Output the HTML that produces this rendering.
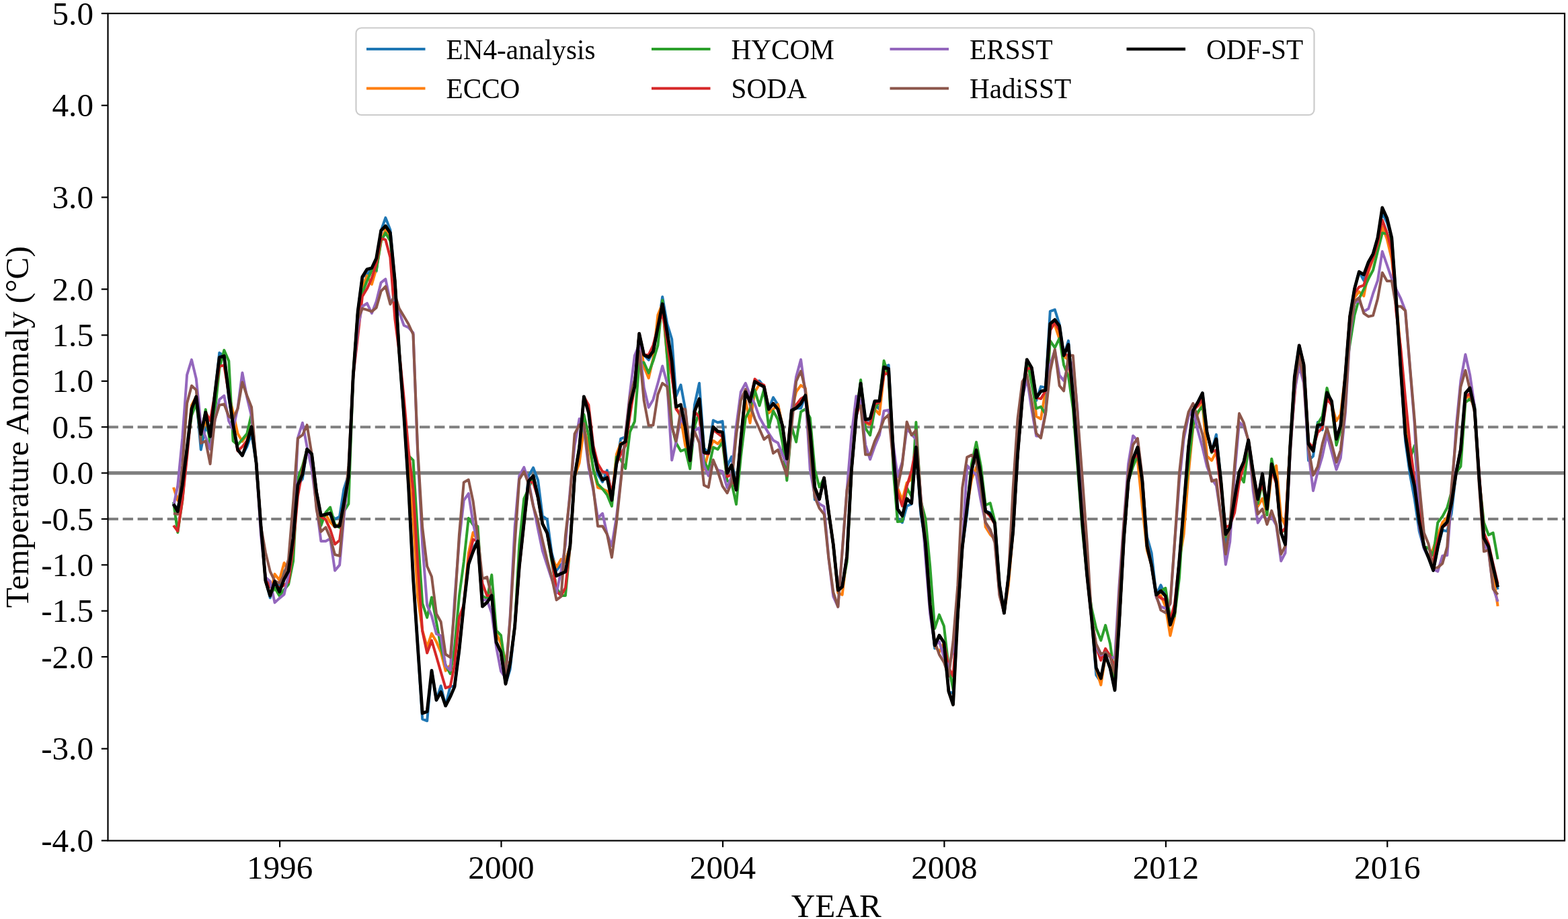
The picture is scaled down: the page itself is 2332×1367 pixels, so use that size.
<!DOCTYPE html>
<html lang="en"><head><meta charset="utf-8"><title>Temperature Anomaly</title>
<style>
html,body{margin:0;padding:0;background:#fff;}
body{width:2332px;height:1367px;overflow:hidden;}
svg{display:block;}
text{font-family:"Liberation Serif","Times New Roman",serif;fill:#000;}
.tk{font-size:49.2px;}
.lg{font-size:41.2px;}
.ax{font-size:49.2px;}
.ser{fill:none;stroke-width:4.0;stroke-linejoin:round;stroke-linecap:butt;}
</style></head>
<body>
<svg xmlns="http://www.w3.org/2000/svg" width="2332" height="1367" viewBox="0 0 2332 1367">
<rect x="0" y="0" width="2332" height="1367" fill="#fff"/>
<g stroke="#808080" stroke-width="5.2" fill="none">
<line x1="160.5" x2="2327.0" y1="703.6" y2="703.6"/>
<line x1="160.5" x2="2327.0" y1="635.2" y2="635.2" stroke-width="4.1" stroke-dasharray="15.4 6.67"/>
<line x1="160.5" x2="2327.0" y1="772.0" y2="772.0" stroke-width="4.1" stroke-dasharray="15.4 6.67"/>
</g>
<g class="ser">
<polyline stroke="#1f77b4" points="258.0,750.1 264.3,757.2 271.3,721.3 278.1,667.4 285.0,608.1 291.8,590.0 298.8,668.9 305.8,633.5 312.6,649.3 319.5,586.6 326.3,524.8 333.3,529.5 340.3,592.3 346.6,631.3 353.6,669.1 360.4,677.7 367.3,664.4 374.1,645.1 381.1,688.6 388.1,783.1 394.9,863.9 401.8,889.3 408.6,864.8 415.6,870.6 422.6,850.1 429.1,842.3 436.1,800.3 442.9,721.3 449.9,712.2 456.6,668.2 463.6,675.1 470.6,731.6 477.4,766.8 484.4,765.1 491.1,763.4 498.1,772.2 505.1,768.4 511.4,727.6 518.4,705.7 525.2,560.0 532.2,463.0 538.9,411.7 545.9,408.8 552.9,398.8 559.7,403.6 566.7,343.0 573.4,323.9 580.4,341.9 587.4,418.6 593.7,523.5 600.7,617.5 607.5,722.5 614.5,860.0 621.2,960.0 628.2,1069.7 635.2,1072.3 642.0,997.5 649.0,1041.4 655.7,1020.2 662.7,1049.9 669.7,1020.2 676.0,1021.6 683.0,966.6 689.8,899.5 696.8,839.4 703.6,815.2 710.5,805.0 717.5,902.1 724.3,896.1 731.3,885.8 738.1,955.4 745.0,970.0 752.0,1017.3 758.6,995.8 765.6,932.2 772.3,843.0 779.3,777.5 786.1,707.9 793.1,695.7 800.1,714.4 806.8,767.6 813.8,772.7 820.6,822.9 827.6,848.6 834.6,839.6 840.9,835.8 847.9,811.9 854.6,708.8 861.6,666.6 868.4,589.9 875.4,611.5 882.4,671.0 889.1,705.4 896.1,716.9 902.9,699.6 909.9,737.5 916.9,689.8 923.2,652.6 930.2,650.1 936.9,601.9 943.9,575.0 950.7,496.2 957.7,528.0 964.7,535.5 971.4,522.8 978.4,486.7 985.2,441.6 992.2,481.5 999.2,504.6 1005.5,589.3 1012.5,572.6 1019.2,608.6 1026.2,685.0 1033.0,602.2 1040.0,570.0 1047.0,666.5 1053.7,673.8 1060.7,625.3 1067.5,628.5 1074.5,626.6 1081.5,693.5 1088.0,679.3 1095.0,728.8 1101.8,654.0 1108.8,583.0 1115.5,597.6 1122.5,567.5 1129.5,566.4 1136.3,575.3 1143.3,608.8 1150.0,591.2 1157.0,602.2 1164.0,634.5 1170.3,682.4 1177.3,610.5 1184.1,607.0 1191.1,607.3 1197.8,588.1 1204.8,642.0 1211.8,743.2 1218.6,742.6 1225.6,710.8 1232.3,760.6 1239.3,810.0 1246.3,878.1 1252.6,872.9 1259.6,827.5 1266.4,698.8 1273.4,619.1 1280.1,570.1 1287.1,624.2 1294.1,625.4 1300.9,602.2 1307.9,608.6 1314.6,546.0 1321.6,543.0 1328.6,673.0 1334.9,770.8 1341.9,777.2 1348.7,752.8 1355.7,749.6 1362.4,665.2 1369.4,764.4 1376.4,808.0 1383.2,899.5 1390.2,964.6 1396.9,945.1 1403.9,955.8 1410.9,1028.5 1417.5,1031.5 1424.4,915.0 1431.2,814.0 1438.2,764.4 1445.0,700.0 1452.0,669.5 1458.9,707.4 1465.7,760.4 1472.7,762.4 1479.5,778.1 1486.5,870.0 1493.4,912.0 1499.8,858.0 1506.7,790.0 1513.5,676.0 1520.5,592.0 1527.3,544.3 1534.3,546.9 1541.2,595.8 1548.0,575.1 1555.0,576.4 1561.8,463.2 1568.8,460.6 1575.7,482.5 1582.1,528.8 1589.0,506.9 1595.8,588.0 1602.8,683.0 1609.6,775.0 1616.6,855.0 1623.5,920.0 1630.3,1004.1 1637.3,1014.4 1644.1,974.2 1651.1,994.0 1658.0,1026.7 1664.4,928.8 1671.4,802.0 1678.1,716.0 1685.1,682.5 1691.9,665.2 1698.9,716.0 1705.9,798.5 1712.6,822.5 1719.6,884.9 1726.4,870.3 1733.4,885.7 1740.4,929.5 1746.9,910.6 1753.9,834.0 1760.6,754.0 1767.6,664.5 1774.4,610.5 1781.4,598.5 1788.4,584.7 1795.1,643.0 1802.1,671.3 1808.9,646.4 1815.9,716.0 1822.9,810.5 1829.2,784.7 1836.2,741.7 1843.0,702.2 1849.9,686.7 1856.7,654.6 1863.7,702.2 1870.7,742.6 1877.5,704.8 1884.4,757.2 1891.2,690.2 1898.2,716.0 1905.2,792.5 1911.5,807.2 1918.5,668.0 1925.3,560.7 1932.2,513.8 1939.0,542.2 1946.0,685.0 1953.0,678.6 1959.8,627.9 1966.7,639.5 1973.5,583.9 1980.5,596.8 1987.5,653.2 1993.8,632.9 2000.8,558.0 2007.6,471.0 2014.5,429.6 2021.3,404.3 2028.3,417.2 2035.3,392.8 2042.1,377.7 2049.0,353.6 2055.8,316.9 2062.8,331.0 2069.8,353.6 2076.3,443.0 2083.3,550.5 2090.1,655.9 2097.1,706.4 2103.8,742.5 2110.8,790.1 2117.8,815.8 2124.6,829.5 2131.6,848.5 2138.3,814.0 2145.3,788.8 2152.3,790.1 2158.6,764.3 2165.6,703.0 2172.4,668.5 2179.4,584.9 2186.1,577.1 2193.1,608.9 2200.1,714.5 2206.9,800.3 2213.9,813.2 2220.6,843.0 2227.6,876.8"/>
<polyline stroke="#ff7f0e" points="258.0,725.0 264.3,744.3 271.3,721.3 278.1,667.4 285.0,602.6 291.8,590.0 298.8,645.9 305.8,625.8 312.6,649.3 319.5,586.6 326.3,531.6 333.3,529.5 340.3,586.6 346.6,612.9 353.6,645.1 360.4,656.7 367.3,646.4 374.1,634.7 381.1,688.6 388.1,783.1 394.9,864.8 401.8,886.3 408.6,853.9 415.6,862.9 422.6,837.2 429.1,849.3 436.1,800.3 442.9,721.3 449.9,705.8 456.6,668.2 463.6,675.1 470.6,731.6 477.4,766.8 484.4,765.1 491.1,776.7 498.1,783.8 505.1,779.3 511.4,748.8 518.4,709.2 525.2,560.0 532.2,463.0 538.9,426.8 545.9,410.1 552.9,422.9 559.7,399.8 566.7,358.6 573.4,341.2 580.4,350.9 587.4,418.6 593.7,523.5 600.7,603.8 607.5,694.9 614.5,771.5 621.2,887.2 628.2,937.9 635.2,962.3 642.0,942.4 649.0,954.6 655.7,970.1 662.7,997.7 669.7,989.3 676.0,970.1 683.0,966.6 689.8,899.5 696.8,822.9 703.6,792.0 710.5,805.0 717.5,902.1 724.3,896.1 731.3,885.8 738.1,941.7 745.0,957.2 752.0,982.9 758.6,987.2 765.6,932.2 772.3,843.0 779.3,777.5 786.1,715.6 793.1,707.9 800.1,739.7 806.8,779.2 813.8,793.0 820.6,829.1 827.6,843.5 834.6,831.9 840.9,835.8 847.9,811.9 854.6,708.8 861.6,688.6 868.4,637.2 875.4,662.9 882.4,696.4 889.1,725.3 896.1,727.2 902.9,730.5 909.9,742.7 916.9,675.8 923.2,659.1 930.2,662.9 936.9,601.9 943.9,575.0 950.7,496.2 957.7,545.8 964.7,562.5 971.4,532.9 978.4,468.6 985.2,452.0 992.2,530.3 999.2,558.6 1005.5,605.3 1012.5,621.5 1019.2,662.6 1026.2,683.2 1033.0,612.2 1040.0,593.3 1047.0,698.6 1053.7,672.9 1060.7,655.5 1067.5,660.1 1074.5,652.3 1081.5,703.9 1088.0,691.9 1095.0,728.8 1101.8,654.0 1108.8,595.7 1115.5,629.2 1122.5,582.9 1129.5,571.8 1136.3,575.3 1143.3,614.4 1150.0,608.6 1157.0,601.5 1164.0,634.3 1170.3,682.4 1177.3,610.5 1184.1,582.9 1191.1,573.2 1197.8,577.7 1204.8,642.0 1211.8,725.0 1218.6,742.6 1225.6,710.8 1232.3,760.6 1239.3,810.0 1246.3,882.1 1252.6,884.7 1259.6,827.5 1266.4,698.8 1273.4,619.1 1280.1,570.1 1287.1,629.2 1294.1,631.8 1300.9,608.6 1307.9,616.4 1314.6,557.2 1321.6,548.6 1328.6,673.0 1334.9,725.8 1341.9,743.8 1348.7,718.1 1355.7,712.9 1362.4,665.2 1369.4,755.0 1376.4,808.0 1383.2,899.5 1390.2,960.2 1396.9,969.8 1403.9,955.8 1410.9,1028.5 1417.5,1048.2 1424.4,915.0 1431.2,814.0 1438.2,755.0 1445.0,712.9 1452.0,694.9 1458.9,707.4 1465.7,783.7 1472.7,795.0 1479.5,801.9 1486.5,870.0 1493.4,912.0 1499.8,870.3 1506.7,790.0 1513.5,676.0 1520.5,592.0 1527.3,534.9 1534.3,546.9 1541.2,619.3 1548.0,623.2 1555.0,580.4 1561.8,481.6 1568.8,483.7 1575.7,504.3 1582.1,530.1 1589.0,535.2 1595.8,588.0 1602.8,683.0 1609.6,775.0 1616.6,855.0 1623.5,920.0 1630.3,995.1 1637.3,1018.9 1644.1,975.8 1651.1,973.2 1658.0,1007.9 1664.4,928.8 1671.4,802.0 1678.1,716.0 1685.1,682.5 1691.9,684.9 1698.9,754.4 1705.9,818.7 1712.6,840.8 1719.6,884.9 1726.4,885.7 1733.4,902.5 1740.4,945.5 1746.9,917.9 1753.9,834.0 1760.6,794.4 1767.6,704.3 1774.4,634.7 1781.4,615.4 1788.4,600.0 1795.1,678.6 1802.1,685.0 1808.9,672.2 1815.9,716.0 1822.9,794.8 1829.2,784.7 1836.2,741.7 1843.0,702.2 1849.9,686.7 1856.7,654.6 1863.7,702.2 1870.7,753.2 1877.5,741.6 1884.4,764.8 1891.2,704.3 1898.2,692.7 1905.2,768.6 1911.5,781.5 1918.5,668.0 1925.3,560.7 1932.2,525.0 1939.0,542.2 1946.0,660.4 1953.0,671.0 1959.8,632.5 1966.7,631.3 1973.5,583.9 1980.5,602.2 1987.5,626.0 1993.8,616.4 2000.8,557.2 2007.6,471.0 2014.5,442.9 2021.3,433.9 2028.3,440.4 2035.3,404.3 2042.1,385.1 2049.0,364.5 2055.8,337.5 2062.8,355.5 2069.8,385.1 2076.3,443.0 2083.3,525.0 2090.1,605.0 2097.1,675.8 2103.8,723.5 2110.8,776.0 2117.8,812.4 2124.6,829.5 2131.6,815.8 2138.3,796.5 2145.3,777.2 2152.3,769.5 2158.6,751.5 2165.6,703.0 2172.4,668.5 2179.4,592.2 2186.1,589.6 2193.1,608.9 2200.1,714.5 2206.9,800.3 2213.9,818.4 2220.6,854.4 2227.6,901.7"/>
<polyline stroke="#2ca02c" points="258.0,746.9 264.3,791.9 271.3,744.3 278.1,667.4 285.0,618.1 291.8,600.1 298.8,651.5 305.8,609.1 312.6,661.8 319.5,612.9 326.3,548.6 333.3,520.9 340.3,537.0 346.6,656.0 353.6,661.8 360.4,653.4 367.3,645.1 374.1,615.5 381.1,688.6 388.1,783.1 394.9,863.9 401.8,886.3 408.6,874.5 415.6,886.1 422.6,877.1 429.1,869.3 436.1,834.6 442.9,712.2 449.9,692.9 456.6,668.2 463.6,675.1 470.6,731.6 477.4,781.9 484.4,762.3 491.1,754.6 498.1,780.3 505.1,784.8 511.4,761.0 518.4,749.5 525.2,560.0 532.2,463.0 538.9,435.8 545.9,417.8 552.9,402.3 559.7,402.3 566.7,358.6 573.4,346.4 580.4,358.6 587.4,418.6 593.7,523.5 600.7,617.5 607.5,677.7 614.5,684.6 621.2,793.3 628.2,897.5 635.2,918.6 642.0,888.5 649.0,925.0 655.7,962.3 662.7,989.3 669.7,1002.2 676.0,963.6 683.0,886.4 689.8,835.8 696.8,770.8 703.6,780.5 710.5,783.0 717.5,886.0 724.3,891.1 731.3,855.1 738.1,937.9 745.0,945.0 752.0,995.8 758.6,987.2 765.6,932.2 772.3,810.1 779.3,741.9 786.1,727.2 793.1,707.9 800.1,739.7 806.8,779.2 813.8,793.0 820.6,835.8 827.6,874.4 834.6,886.0 840.9,886.0 847.9,811.9 854.6,708.8 861.6,662.9 868.4,616.6 875.4,647.5 882.4,698.9 889.1,720.2 896.1,727.2 902.9,735.9 909.9,753.0 916.9,679.6 923.2,683.5 930.2,697.0 936.9,642.3 943.9,626.9 950.7,539.3 957.7,539.3 964.7,554.8 971.4,536.8 978.4,513.6 985.2,446.7 992.2,530.3 999.2,634.3 1005.5,658.8 1012.5,671.0 1019.2,668.4 1026.2,697.4 1033.0,634.3 1040.0,612.5 1047.0,685.8 1053.7,698.6 1060.7,665.2 1067.5,668.4 1074.5,657.5 1081.5,715.4 1088.0,717.9 1095.0,750.1 1101.8,679.3 1108.8,621.5 1115.5,608.6 1122.5,580.3 1129.5,603.4 1136.3,579.0 1143.3,635.6 1150.0,611.2 1157.0,624.0 1164.0,660.1 1170.3,714.7 1177.3,634.3 1184.1,657.5 1191.1,612.5 1197.8,608.6 1204.8,621.5 1211.8,698.6 1218.6,724.4 1225.6,710.8 1232.3,760.6 1239.3,810.0 1246.3,878.1 1252.6,872.9 1259.6,835.8 1266.4,698.8 1273.4,619.1 1280.1,564.9 1287.1,637.0 1294.1,647.3 1300.9,608.6 1307.9,596.4 1314.6,536.6 1321.6,559.8 1328.6,700.1 1334.9,776.0 1341.9,775.3 1348.7,725.8 1355.7,738.6 1362.4,628.0 1369.4,745.1 1376.4,771.5 1383.2,842.2 1390.2,935.0 1396.9,914.4 1403.9,931.2 1410.9,992.9 1417.5,1025.1 1424.4,915.0 1431.2,814.0 1438.2,755.0 1445.0,689.8 1452.0,657.6 1458.9,693.6 1465.7,751.5 1472.7,748.3 1479.5,774.7 1486.5,870.0 1493.4,912.0 1499.8,858.0 1506.7,790.0 1513.5,676.0 1520.5,592.0 1527.3,534.9 1534.3,570.1 1541.2,607.7 1548.0,605.1 1555.0,615.9 1561.8,506.9 1568.8,517.2 1575.7,503.0 1582.1,542.9 1589.0,559.6 1595.8,607.2 1602.8,696.5 1609.6,786.5 1616.6,855.0 1623.5,905.0 1630.3,934.6 1637.3,952.6 1644.1,930.1 1651.1,957.8 1658.0,1007.9 1664.4,928.8 1671.4,802.0 1678.1,716.0 1685.1,693.9 1691.9,677.2 1698.9,716.0 1705.9,812.3 1712.6,840.8 1719.6,884.9 1726.4,879.3 1733.4,874.8 1740.4,917.9 1746.9,916.6 1753.9,860.0 1760.6,754.0 1767.6,690.1 1774.4,632.2 1781.4,612.9 1788.4,604.7 1795.1,643.0 1802.1,673.4 1808.9,652.9 1815.9,716.0 1822.9,798.5 1829.2,784.7 1836.2,741.7 1843.0,704.3 1849.9,717.2 1856.7,665.7 1863.7,702.2 1870.7,749.3 1877.5,717.2 1884.4,766.1 1891.2,682.5 1898.2,716.0 1905.2,792.5 1911.5,787.9 1918.5,668.0 1925.3,560.7 1932.2,552.0 1939.0,542.2 1946.0,660.4 1953.0,665.7 1959.8,630.5 1966.7,618.9 1973.5,577.1 1980.5,602.2 1987.5,662.2 1993.8,640.8 2000.8,558.0 2007.6,512.2 2014.5,468.7 2021.3,444.2 2028.3,430.1 2035.3,414.6 2042.1,401.8 2049.0,373.5 2055.8,346.5 2062.8,347.7 2069.8,359.3 2076.3,443.0 2083.3,550.5 2090.1,646.0 2097.1,682.2 2103.8,662.9 2110.8,740.1 2117.8,812.4 2124.6,815.8 2131.6,826.1 2138.3,777.2 2145.3,768.2 2152.3,755.3 2158.6,732.2 2165.6,703.0 2172.4,693.8 2179.4,598.6 2186.1,593.4 2193.1,602.5 2200.1,714.5 2206.9,777.2 2213.9,795.8 2220.6,792.6 2227.6,831.9"/>
<polyline stroke="#d62728" points="258.0,781.6 264.3,790.0 271.3,744.3 278.1,680.0 285.0,608.1 291.8,590.0 298.8,645.9 305.8,613.2 312.6,625.8 319.5,586.6 326.3,544.7 333.3,543.4 340.3,586.6 346.6,631.3 353.6,670.8 360.4,664.4 367.3,655.4 374.1,634.7 381.1,688.6 388.1,783.1 394.9,860.3 401.8,873.2 408.6,868.1 415.6,874.5 422.6,870.6 429.1,865.5 436.1,811.5 442.9,737.9 449.9,699.3 456.6,668.2 463.6,675.1 470.6,731.6 477.4,768.8 484.4,772.9 491.1,787.7 498.1,809.5 505.1,803.7 511.4,757.2 518.4,709.2 525.2,560.0 532.2,500.1 538.9,440.9 545.9,429.3 552.9,413.9 559.7,392.0 566.7,354.7 573.4,356.7 580.4,383.0 587.4,474.4 593.7,523.5 600.7,591.7 607.5,669.1 614.5,729.0 621.2,838.4 628.2,938.7 635.2,971.3 642.0,952.7 649.0,976.5 655.7,999.6 662.7,1023.4 669.7,1020.9 676.0,989.3 683.0,918.6 689.8,899.5 696.8,833.2 703.6,802.3 710.5,805.0 717.5,867.9 724.3,886.0 731.3,885.8 738.1,955.4 745.0,970.0 752.0,1017.3 758.6,987.2 765.6,932.2 772.3,843.0 779.3,777.5 786.1,715.6 793.1,718.2 800.1,740.1 806.8,779.2 813.8,793.0 820.6,829.1 827.6,879.5 834.6,886.0 840.9,874.4 847.9,811.9 854.6,708.8 861.6,666.6 868.4,589.9 875.4,602.5 882.4,662.9 889.1,689.9 896.1,701.5 902.9,703.4 909.9,733.7 916.9,689.8 923.2,675.8 930.2,662.9 936.9,617.9 943.9,575.0 950.7,496.2 957.7,528.0 964.7,527.8 971.4,513.6 978.4,486.7 985.2,464.7 992.2,507.2 999.2,558.6 1005.5,608.6 1012.5,617.6 1019.2,634.3 1026.2,685.0 1033.0,612.2 1040.0,620.2 1047.0,674.2 1053.7,675.5 1060.7,639.5 1067.5,644.6 1074.5,649.8 1081.5,708.9 1088.0,706.4 1095.0,728.8 1101.8,654.0 1108.8,583.0 1115.5,597.6 1122.5,563.8 1129.5,570.2 1136.3,572.8 1143.3,608.8 1150.0,600.2 1157.0,608.8 1164.0,634.5 1170.3,682.4 1177.3,610.5 1184.1,602.2 1191.1,593.2 1197.8,589.3 1204.8,642.0 1211.8,725.0 1218.6,742.6 1225.6,710.8 1232.3,760.6 1239.3,810.0 1246.3,878.1 1252.6,872.9 1259.6,827.5 1266.4,698.8 1273.4,619.1 1280.1,595.8 1287.1,627.9 1294.1,630.5 1300.9,600.9 1307.9,598.4 1314.6,557.2 1321.6,554.6 1328.6,673.0 1334.9,732.2 1341.9,752.8 1348.7,723.2 1355.7,700.1 1362.4,665.2 1369.4,755.0 1376.4,808.0 1383.2,899.5 1390.2,960.2 1396.9,945.1 1403.9,955.8 1410.9,992.9 1417.5,1005.8 1424.4,915.0 1431.2,814.0 1438.2,755.0 1445.0,700.0 1452.0,669.5 1458.9,707.4 1465.7,760.4 1472.7,768.2 1479.5,779.8 1486.5,877.2 1493.4,912.0 1499.8,858.0 1506.7,790.0 1513.5,676.0 1520.5,592.0 1527.3,548.2 1534.3,546.9 1541.2,591.6 1548.0,593.1 1555.0,581.5 1561.8,491.5 1568.8,479.9 1575.7,491.5 1582.1,524.9 1589.0,530.1 1595.8,588.0 1602.8,670.8 1609.6,760.8 1616.6,855.0 1623.5,920.0 1630.3,962.9 1637.3,982.2 1644.1,964.8 1651.1,975.8 1658.0,992.5 1664.4,928.8 1671.4,802.0 1678.1,716.0 1685.1,682.5 1691.9,675.9 1698.9,716.0 1705.9,812.3 1712.6,840.8 1719.6,884.9 1726.4,889.6 1733.4,892.8 1740.4,921.7 1746.9,898.6 1753.9,834.0 1760.6,754.0 1767.6,664.5 1774.4,610.5 1781.4,603.9 1788.4,593.6 1795.1,643.0 1802.1,672.2 1808.9,669.6 1815.9,728.6 1822.9,784.1 1829.2,781.5 1836.2,762.2 1843.0,717.2 1849.9,691.5 1856.7,654.6 1863.7,702.2 1870.7,739.1 1877.5,719.8 1884.4,749.3 1891.2,697.9 1898.2,719.8 1905.2,792.5 1911.5,785.4 1918.5,668.0 1925.3,589.3 1932.2,513.8 1939.0,542.2 1946.0,658.0 1953.0,665.7 1959.8,643.4 1966.7,636.9 1973.5,593.2 1980.5,602.2 1987.5,653.2 1993.8,632.9 2000.8,558.0 2007.6,471.0 2014.5,436.5 2021.3,426.9 2028.3,424.3 2035.3,400.5 2042.1,383.8 2049.0,361.9 2055.8,327.2 2062.8,346.5 2069.8,372.2 2076.3,462.2 2083.3,518.6 2090.1,592.2 2097.1,662.9 2103.8,714.4 2110.8,753.0 2117.8,812.4 2124.6,829.5 2131.6,835.1 2138.3,802.9 2145.3,783.6 2152.3,779.8 2158.6,748.8 2165.6,703.0 2172.4,668.5 2179.4,589.6 2186.1,585.7 2193.1,608.9 2200.1,707.9 2206.9,792.6 2213.9,809.3 2220.6,838.9 2227.6,868.5"/>
<polyline stroke="#9467bd" points="258.0,753.3 264.3,722.5 271.3,651.5 278.1,557.6 285.0,535.1 291.8,563.4 298.8,632.2 305.8,650.2 312.6,668.2 319.5,625.8 326.3,594.3 333.3,588.5 340.3,626.4 346.6,638.6 353.6,606.5 360.4,554.4 367.3,591.0 374.1,619.3 381.1,688.6 388.1,796.9 394.9,858.8 401.8,864.8 408.6,896.4 415.6,889.9 422.6,884.1 429.1,854.6 436.1,798.6 442.9,651.5 449.9,629.0 456.6,664.4 463.6,697.2 470.6,752.2 477.4,805.0 484.4,805.0 491.1,801.2 498.1,848.8 505.1,840.4 511.4,770.3 518.4,705.7 525.2,560.0 532.2,487.2 538.9,455.7 545.9,451.2 552.9,466.0 559.7,448.6 566.7,420.3 573.4,415.2 580.4,448.6 587.4,444.8 593.7,464.1 600.7,484.0 607.5,487.2 614.5,495.0 621.2,675.0 628.2,810.1 635.2,900.1 642.0,916.0 649.0,943.0 655.7,945.6 662.7,990.6 669.7,997.1 676.0,892.9 683.0,803.6 689.8,744.4 696.8,734.2 703.6,777.9 710.5,810.1 717.5,892.4 724.3,892.4 731.3,912.2 738.1,962.3 745.0,998.4 752.0,1008.6 758.6,918.6 765.6,784.3 772.3,707.9 779.3,695.1 786.1,715.7 793.1,752.2 800.1,786.9 806.8,819.1 813.8,840.9 820.6,861.5 827.6,882.1 834.6,848.6 840.9,810.2 847.9,729.4 854.6,662.9 861.6,623.0 868.4,637.2 875.4,695.1 882.4,729.4 889.1,770.6 896.1,763.8 902.9,794.7 909.9,811.9 916.9,768.9 923.2,713.9 930.2,645.2 936.9,584.4 943.9,529.1 950.7,512.3 957.7,576.4 964.7,606.0 971.4,594.4 978.4,570.0 985.2,544.5 992.2,570.0 999.2,684.5 1005.5,657.5 1012.5,621.5 1019.2,634.3 1026.2,679.3 1033.0,640.8 1040.0,636.3 1047.0,692.2 1053.7,707.7 1060.7,685.8 1067.5,699.3 1074.5,701.2 1081.5,725.7 1088.0,708.9 1095.0,634.3 1101.8,582.9 1108.8,570.0 1115.5,588.0 1122.5,600.9 1129.5,620.8 1136.3,633.0 1143.3,644.6 1150.0,654.9 1157.0,658.8 1164.0,676.8 1170.3,690.9 1177.3,608.6 1184.1,560.6 1191.1,534.9 1197.8,584.7 1204.8,698.6 1211.8,737.2 1218.6,749.6 1225.6,753.4 1232.3,829.3 1239.3,887.2 1246.3,902.7 1252.6,820.3 1259.6,729.0 1266.4,647.2 1273.4,589.3 1280.1,595.8 1287.1,661.5 1294.1,683.3 1300.9,664.0 1307.9,647.3 1314.6,611.2 1321.6,610.0 1328.6,661.5 1334.9,709.1 1341.9,687.2 1348.7,637.7 1355.7,646.0 1362.4,653.7 1369.4,738.6 1376.4,829.3 1383.2,913.0 1390.2,960.2 1396.9,954.3 1403.9,977.5 1410.9,992.9 1417.5,967.2 1424.4,877.1 1431.2,814.0 1438.2,692.3 1445.0,700.1 1452.0,706.5 1458.9,745.1 1465.7,777.2 1472.7,790.1 1479.5,803.6 1486.5,884.1 1493.4,912.0 1499.8,858.0 1506.7,790.0 1513.5,676.0 1520.5,592.0 1527.3,562.3 1534.3,608.6 1541.2,648.5 1548.0,648.9 1555.0,612.9 1561.8,542.9 1568.8,521.0 1575.7,558.4 1582.1,566.1 1589.0,542.9 1595.8,539.1 1602.8,613.7 1609.6,775.0 1616.6,855.0 1623.5,920.0 1630.3,962.9 1637.3,974.5 1644.1,970.6 1651.1,977.7 1658.0,978.4 1664.4,872.9 1671.4,775.9 1678.1,690.1 1685.1,648.2 1691.9,655.3 1698.9,715.8 1705.9,812.3 1712.6,840.8 1719.6,888.3 1726.4,902.5 1733.4,905.0 1740.4,898.6 1746.9,808.5 1753.9,717.2 1760.6,652.9 1767.6,619.3 1774.4,609.0 1781.4,640.0 1788.4,665.7 1795.1,694.0 1802.1,712.0 1808.9,722.3 1815.9,768.6 1822.9,839.7 1829.2,806.0 1836.2,704.3 1843.0,627.9 1849.9,634.4 1856.7,654.6 1863.7,730.1 1870.7,777.7 1877.5,767.4 1884.4,772.5 1891.2,768.6 1898.2,781.5 1905.2,834.6 1911.5,822.5 1918.5,678.6 1925.3,582.9 1932.2,544.3 1939.0,570.1 1946.0,672.2 1953.0,730.1 1959.8,701.7 1966.7,678.6 1973.5,646.0 1980.5,672.2 1987.5,698.5 1993.8,681.2 2000.8,615.1 2007.6,499.3 2014.5,450.7 2021.3,446.8 2028.3,463.5 2035.3,459.0 2042.1,436.5 2049.0,417.2 2055.8,374.1 2062.8,394.1 2069.8,414.6 2076.3,430.1 2083.3,444.2 2090.1,462.2 2097.1,549.7 2103.8,630.8 2110.8,783.6 2117.8,815.8 2124.6,828.6 2131.6,846.7 2138.3,849.9 2145.3,826.7 2152.3,826.1 2158.6,742.5 2165.6,635.7 2172.4,566.4 2179.4,527.3 2186.1,557.4 2193.1,605.0 2200.1,714.5 2206.9,809.3 2213.9,820.9 2220.6,873.7 2227.6,894.9"/>
<polyline stroke="#8c564b" points="258.0,763.6 264.3,764.9 271.3,692.9 278.1,600.1 285.0,573.7 291.8,580.1 298.8,659.2 305.8,656.0 312.6,690.1 319.5,624.5 326.3,602.6 333.3,601.3 340.3,619.3 346.6,623.2 353.6,607.8 360.4,568.5 367.3,588.5 374.1,605.8 381.1,688.6 388.1,783.1 394.9,821.7 401.8,850.1 408.6,864.2 415.6,867.4 422.6,855.2 429.1,832.0 436.1,747.1 442.9,652.2 449.9,647.0 456.6,632.2 463.6,675.1 470.6,757.2 477.4,790.9 484.4,784.4 491.1,799.9 498.1,825.0 505.1,826.9 511.4,760.0 518.4,692.9 525.2,560.0 532.2,474.4 538.9,458.9 545.9,460.9 552.9,463.4 559.7,457.7 566.7,433.2 573.4,426.1 580.4,452.5 587.4,438.4 593.7,458.9 600.7,470.5 607.5,482.1 614.5,497.5 621.2,668.5 628.2,784.3 635.2,842.2 642.0,857.7 649.0,913.0 655.7,925.0 662.7,973.3 669.7,977.8 676.0,905.7 683.0,794.6 689.8,717.4 696.8,713.6 703.6,745.7 710.5,797.2 717.5,860.9 724.3,858.3 731.3,887.2 738.1,955.4 745.0,970.0 752.0,1000.9 758.6,922.5 765.6,810.1 772.3,713.1 779.3,701.5 786.1,719.5 793.1,753.0 800.1,775.3 806.8,803.6 813.8,833.2 820.6,858.9 827.6,892.4 834.6,887.2 840.9,797.2 847.9,735.9 854.6,645.5 861.6,632.0 868.4,630.1 875.4,688.6 882.4,725.9 889.1,782.7 896.1,782.7 902.9,794.7 909.9,829.1 916.9,777.5 923.2,717.4 930.2,648.6 936.9,590.8 943.9,565.1 950.7,522.6 957.7,595.7 964.7,633.0 971.4,632.4 978.4,586.7 985.2,570.0 992.2,575.1 999.2,634.3 1005.5,656.2 1012.5,608.6 1019.2,608.6 1026.2,670.3 1033.0,642.0 1040.0,658.8 1047.0,721.8 1053.7,725.0 1060.7,683.9 1067.5,701.2 1074.5,723.1 1081.5,733.4 1088.0,717.9 1095.0,647.2 1101.8,595.7 1108.8,579.0 1115.5,602.2 1122.5,622.7 1129.5,638.2 1136.3,653.6 1143.3,647.8 1150.0,674.2 1157.0,669.1 1164.0,689.6 1170.3,707.7 1177.3,634.3 1184.1,567.5 1191.1,552.0 1197.8,579.5 1204.8,672.9 1211.8,739.3 1218.6,756.0 1225.6,765.0 1232.3,829.3 1239.3,880.8 1246.3,902.7 1252.6,820.3 1259.6,729.0 1266.4,698.8 1273.4,608.6 1280.1,603.5 1287.1,676.3 1294.1,676.3 1300.9,656.3 1307.9,642.2 1314.6,623.5 1321.6,617.1 1328.6,687.2 1334.9,725.8 1341.9,691.0 1348.7,627.4 1355.7,647.3 1362.4,640.2 1369.4,738.6 1376.4,803.0 1383.2,899.5 1390.2,954.3 1396.9,973.6 1403.9,985.2 1410.9,1005.8 1417.5,954.3 1424.4,870.7 1431.2,725.8 1438.2,680.1 1445.0,676.9 1452.0,687.2 1458.9,725.8 1465.7,777.2 1472.7,787.5 1479.5,807.1 1486.5,885.8 1493.4,912.0 1499.8,858.0 1506.7,725.8 1513.5,622.9 1520.5,567.5 1527.3,557.2 1534.3,595.8 1541.2,644.7 1548.0,651.5 1555.0,615.9 1561.8,553.2 1568.8,519.8 1575.7,573.8 1582.1,581.5 1589.0,528.8 1595.8,528.8 1602.8,619.3 1609.6,709.3 1616.6,805.8 1623.5,920.0 1630.3,957.8 1637.3,972.6 1644.1,970.6 1651.1,977.1 1658.0,1001.5 1664.4,885.7 1671.4,780.1 1678.1,702.9 1685.1,661.7 1691.9,652.1 1698.9,709.3 1705.9,805.8 1712.6,840.8 1719.6,885.7 1726.4,907.6 1733.4,911.5 1740.4,897.3 1746.9,808.5 1753.9,704.3 1760.6,643.9 1767.6,612.9 1774.4,600.0 1781.4,621.9 1788.4,646.4 1795.1,685.0 1802.1,715.9 1808.9,713.3 1815.9,768.6 1822.9,824.2 1829.2,781.5 1836.2,691.5 1843.0,615.1 1849.9,629.2 1856.7,655.9 1863.7,717.2 1870.7,764.8 1877.5,757.1 1884.4,780.2 1891.2,759.6 1898.2,780.2 1905.2,824.2 1911.5,812.2 1918.5,678.6 1925.3,576.5 1932.2,531.5 1939.0,563.6 1946.0,665.7 1953.0,706.9 1959.8,694.0 1966.7,660.1 1973.5,636.3 1980.5,660.1 1987.5,687.6 1993.8,669.6 2000.8,608.6 2007.6,492.9 2014.5,448.1 2021.3,442.9 2028.3,466.1 2035.3,470.9 2042.1,469.3 2049.0,444.2 2055.8,405.6 2062.8,417.9 2069.8,417.9 2076.3,455.8 2083.3,455.8 2090.1,462.2 2097.1,547.1 2103.8,624.3 2110.8,720.6 2117.8,792.6 2124.6,809.3 2131.6,845.4 2138.3,844.1 2145.3,838.3 2152.3,813.2 2158.6,725.7 2165.6,648.5 2172.4,575.4 2179.4,551.0 2186.1,579.3 2193.1,614.0 2200.1,725.7 2206.9,820.3 2213.9,818.4 2220.6,875.9 2227.6,884.6"/>
<polyline stroke="#000000" stroke-width="4.8" points="258.0,749.6 264.3,760.8 271.3,721.3 278.1,667.4 285.0,608.1 291.8,590.0 298.8,645.9 305.8,613.2 312.6,649.3 319.5,586.6 326.3,531.6 333.3,529.5 340.3,586.6 346.6,631.3 353.6,669.1 360.4,677.7 367.3,658.8 374.1,634.7 381.1,688.6 388.1,783.1 394.9,863.9 401.8,886.3 408.6,864.8 415.6,880.3 422.6,861.3 429.1,849.3 436.1,800.3 442.9,721.3 449.9,705.8 456.6,668.2 463.6,675.1 470.6,731.6 477.4,766.8 484.4,765.1 491.1,763.4 498.1,783.1 505.1,782.3 511.4,748.8 518.4,709.2 525.2,560.0 532.2,463.0 538.9,411.7 545.9,400.6 552.9,398.8 559.7,384.2 566.7,343.0 573.4,336.1 580.4,346.4 587.4,418.6 593.7,523.5 600.7,617.5 607.5,722.5 614.5,860.0 621.2,960.0 628.2,1061.1 635.2,1058.5 642.0,997.5 649.0,1041.4 655.7,1029.3 662.7,1049.9 669.7,1036.2 676.0,1021.6 683.0,966.6 689.8,899.5 696.8,839.4 703.6,820.5 710.5,805.0 717.5,902.1 724.3,896.1 731.3,885.8 738.1,955.4 745.0,970.0 752.0,1017.3 758.6,987.2 765.6,932.2 772.3,843.0 779.3,777.5 786.1,715.6 793.1,707.9 800.1,739.7 806.8,779.2 813.8,793.0 820.6,829.1 827.6,856.6 834.6,853.2 840.9,850.6 847.9,811.9 854.6,708.8 861.6,666.6 868.4,589.9 875.4,613.9 882.4,671.0 889.1,699.3 896.1,713.9 902.9,710.5 909.9,744.0 916.9,689.8 923.2,661.0 930.2,657.0 936.9,601.9 943.9,575.0 950.7,496.2 957.7,528.0 964.7,531.4 971.4,522.8 978.4,486.7 985.2,452.0 992.2,494.5 999.2,537.0 1005.5,605.3 1012.5,601.9 1019.2,636.3 1026.2,685.0 1033.0,612.2 1040.0,593.3 1047.0,673.0 1053.7,673.8 1060.7,635.0 1067.5,641.7 1074.5,642.9 1081.5,703.9 1088.0,691.9 1095.0,728.8 1101.8,654.0 1108.8,583.0 1115.5,597.6 1122.5,567.5 1129.5,571.8 1136.3,575.3 1143.3,608.8 1150.0,600.2 1157.0,608.8 1164.0,634.5 1170.3,682.4 1177.3,610.5 1184.1,607.0 1191.1,600.2 1197.8,588.1 1204.8,642.0 1211.8,725.0 1218.6,742.6 1225.6,710.8 1232.3,760.6 1239.3,810.0 1246.3,878.1 1252.6,872.9 1259.6,827.5 1266.4,698.8 1273.4,619.1 1280.1,570.1 1287.1,624.2 1294.1,622.5 1300.9,596.7 1307.9,596.4 1314.6,546.0 1321.6,548.6 1328.6,673.0 1334.9,757.2 1341.9,767.5 1348.7,741.7 1355.7,748.6 1362.4,665.2 1369.4,755.0 1376.4,808.0 1383.2,899.5 1390.2,960.2 1396.9,945.1 1403.9,955.8 1410.9,1028.5 1417.5,1048.2 1424.4,915.0 1431.2,814.0 1438.2,755.0 1445.0,700.0 1452.0,669.5 1458.9,707.4 1465.7,760.4 1472.7,764.8 1479.5,778.1 1486.5,870.0 1493.4,912.0 1499.8,858.0 1506.7,790.0 1513.5,676.0 1520.5,592.0 1527.3,534.9 1534.3,546.9 1541.2,591.6 1548.0,582.1 1555.0,580.4 1561.8,481.6 1568.8,475.6 1575.7,485.0 1582.1,528.8 1589.0,512.5 1595.8,588.0 1602.8,683.0 1609.6,775.0 1616.6,855.0 1623.5,920.0 1630.3,993.6 1637.3,1009.0 1644.1,974.2 1651.1,994.0 1658.0,1026.7 1664.4,928.8 1671.4,802.0 1678.1,716.0 1685.1,682.5 1691.9,665.2 1698.9,716.0 1705.9,812.3 1712.6,840.8 1719.6,884.9 1726.4,878.8 1733.4,886.6 1740.4,929.5 1746.9,910.6 1753.9,834.0 1760.6,754.0 1767.6,664.5 1774.4,610.5 1781.4,598.5 1788.4,584.7 1795.1,643.0 1802.1,671.3 1808.9,652.9 1815.9,716.0 1822.9,794.8 1829.2,784.7 1836.2,741.7 1843.0,702.2 1849.9,686.7 1856.7,654.6 1863.7,702.2 1870.7,742.6 1877.5,704.8 1884.4,757.2 1891.2,690.2 1898.2,716.0 1905.2,792.5 1911.5,810.0 1918.5,668.0 1925.3,560.7 1932.2,513.8 1939.0,542.2 1946.0,660.4 1953.0,671.0 1959.8,632.5 1966.7,631.3 1973.5,583.9 1980.5,596.8 1987.5,653.2 1993.8,632.9 2000.8,558.0 2007.6,471.0 2014.5,429.6 2021.3,404.3 2028.3,408.6 2035.3,389.7 2042.1,377.7 2049.0,353.6 2055.8,308.9 2062.8,324.4 2069.8,353.6 2076.3,443.0 2083.3,550.5 2090.1,646.0 2097.1,694.3 2103.8,723.5 2110.8,776.0 2117.8,812.4 2124.6,829.5 2131.6,848.5 2138.3,814.0 2145.3,784.0 2152.3,776.3 2158.6,748.8 2165.6,703.0 2172.4,668.5 2179.4,584.9 2186.1,577.1 2193.1,608.9 2200.1,714.5 2206.9,800.3 2213.9,813.2 2220.6,843.0 2227.6,873.4"/>
</g>
<rect x="160.5" y="20.0" width="2166.5" height="1230.5" fill="none" stroke="#000" stroke-width="2.2"/>
<g stroke="#000" stroke-width="2.2">
<line x1="150.8" x2="160.5" y1="20.0" y2="20.0"/>
<line x1="150.8" x2="160.5" y1="156.8" y2="156.8"/>
<line x1="150.8" x2="160.5" y1="293.5" y2="293.5"/>
<line x1="150.8" x2="160.5" y1="430.2" y2="430.2"/>
<line x1="150.8" x2="160.5" y1="498.5" y2="498.5"/>
<line x1="150.8" x2="160.5" y1="566.9" y2="566.9"/>
<line x1="150.8" x2="160.5" y1="635.2" y2="635.2"/>
<line x1="150.8" x2="160.5" y1="703.6" y2="703.6"/>
<line x1="150.8" x2="160.5" y1="772.0" y2="772.0"/>
<line x1="150.8" x2="160.5" y1="840.3" y2="840.3"/>
<line x1="150.8" x2="160.5" y1="908.7" y2="908.7"/>
<line x1="150.8" x2="160.5" y1="977.0" y2="977.0"/>
<line x1="150.8" x2="160.5" y1="1113.7" y2="1113.7"/>
<line x1="150.8" x2="160.5" y1="1250.4" y2="1250.4"/>
<line x1="416.1" x2="416.1" y1="1250.5" y2="1260.2"/>
<line x1="745.5" x2="745.5" y1="1250.5" y2="1260.2"/>
<line x1="1075.0" x2="1075.0" y1="1250.5" y2="1260.2"/>
<line x1="1404.4" x2="1404.4" y1="1250.5" y2="1260.2"/>
<line x1="1733.9" x2="1733.9" y1="1250.5" y2="1260.2"/>
<line x1="2063.3" x2="2063.3" y1="1250.5" y2="1260.2"/>
</g>
<g class="tk" text-anchor="end">
<text x="139.0" y="36.5">5.0</text>
<text x="139.0" y="173.3">4.0</text>
<text x="139.0" y="310.0">3.0</text>
<text x="139.0" y="446.7">2.0</text>
<text x="139.0" y="515.0">1.5</text>
<text x="139.0" y="583.4">1.0</text>
<text x="139.0" y="651.7">0.5</text>
<text x="139.0" y="720.1">0.0</text>
<text x="139.0" y="788.5">-0.5</text>
<text x="139.0" y="856.8">-1.0</text>
<text x="139.0" y="925.2">-1.5</text>
<text x="139.0" y="993.5">-2.0</text>
<text x="139.0" y="1130.2">-3.0</text>
<text x="139.0" y="1266.9">-4.0</text>
</g>
<g class="tk" text-anchor="middle">
<text x="416.1" y="1306.5">1996</text>
<text x="745.5" y="1306.5">2000</text>
<text x="1075.0" y="1306.5">2004</text>
<text x="1404.4" y="1306.5">2008</text>
<text x="1733.9" y="1306.5">2012</text>
<text x="2063.3" y="1306.5">2016</text>
</g>
<text class="ax" text-anchor="middle" x="1243.8" y="1363.5">YEAR</text>
<text class="ax" text-anchor="middle" transform="translate(41.5,635.2) rotate(-90)">Temperature Anomaly (°C)</text>
<rect x="529.5" y="41.5" width="1425" height="129.5" rx="8" ry="8" fill="#fff" fill-opacity="0.8" stroke="#cccccc" stroke-width="2.2"/>
<line x1="545" x2="632.5" y1="73" y2="73" stroke="#1f77b4" stroke-width="4.1"/>
<text class="lg" x="663.5" y="87.5">EN4-analysis</text>
<line x1="545" x2="632.5" y1="131.5" y2="131.5" stroke="#ff7f0e" stroke-width="4.1"/>
<text class="lg" x="663.5" y="146.0">ECCO</text>
<line x1="969" x2="1056.5" y1="73" y2="73" stroke="#2ca02c" stroke-width="4.1"/>
<text class="lg" x="1087.5" y="87.5">HYCOM</text>
<line x1="969" x2="1056.5" y1="131.5" y2="131.5" stroke="#d62728" stroke-width="4.1"/>
<text class="lg" x="1087.5" y="146.0">SODA</text>
<line x1="1323.5" x2="1411.0" y1="73" y2="73" stroke="#9467bd" stroke-width="4.1"/>
<text class="lg" x="1442.0" y="87.5">ERSST</text>
<line x1="1323.5" x2="1411.0" y1="131.5" y2="131.5" stroke="#8c564b" stroke-width="4.1"/>
<text class="lg" x="1442.0" y="146.0">HadiSST</text>
<line x1="1675.5" x2="1763.0" y1="73" y2="73" stroke="#000000" stroke-width="4.6"/>
<text class="lg" x="1794.0" y="87.5">ODF-ST</text>
</svg>
</body></html>
